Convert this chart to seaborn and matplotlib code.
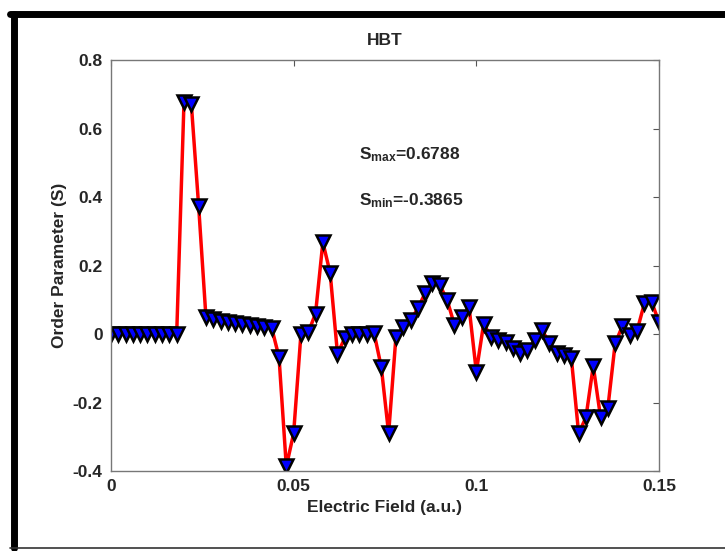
import numpy as np
import pandas as pd
import matplotlib
matplotlib.use("Agg")
import matplotlib.pyplot as plt
from matplotlib.lines import Line2D
import seaborn as sns

# field values: 76 points, step 0.002
field = [round(0.002 * i, 3) for i in range(76)]
order_param = [
    0.0, 0.0, 0.0, 0.0, 0.0, 0.0, 0.0, 0.0, 0.0, 0.0,          # 0.000-0.018
    0.6788, 0.672, 0.375,                                          # 0.020-0.024
    0.050, 0.043, 0.038, 0.035, 0.032, 0.030, 0.027, 0.025, 0.022, 0.018,  # 0.026-0.044
    -0.067, -0.3865, -0.29, 0.0, 0.005, 0.06, 0.268, 0.178, -0.057,       # 0.046-0.062
    -0.012, 0.0, 0.0, 0.0, 0.004, -0.097, -0.29, -0.008, 0.02, 0.04,      # 0.064-0.082
    0.075, 0.12, 0.15, 0.143, 0.10, 0.027, 0.05, 0.08, -0.11, 0.03,       # 0.084-0.102
    -0.008, -0.017, -0.023, -0.04, -0.055, -0.047, -0.017, 0.012, -0.027, -0.055,  # 0.104-0.122
    -0.06, -0.07, -0.29, -0.243, -0.093, -0.243, -0.215, -0.027, 0.024, -0.003,    # 0.124-0.142
    0.01, 0.09, 0.093, 0.035,                                      # 0.144-0.150
]
df = pd.DataFrame({"field": field, "S": order_param})

x_ticks = [0, 0.05, 0.1, 0.15]
x_labels = ["0", "0.05", "0.1", "0.15"]
y_ticks = [-0.4, -0.2, 0, 0.2, 0.4, 0.6, 0.8]
y_labels = ["-0.4", "-0.2", "0", "0.2", "0.4", "0.6", "0.8"]

sns.set_style("white")
plt.rcParams["font.family"] = ["Liberation Sans", "DejaVu Sans"]
plt.rcParams["mathtext.fontset"] = "custom"
plt.rcParams["mathtext.rm"] = "Liberation Sans:bold"
plt.rcParams["mathtext.it"] = "Liberation Sans:bold"
plt.rcParams["mathtext.bf"] = "Liberation Sans:bold"

fig = plt.figure(figsize=(7.25, 5.51), dpi=100)
ax = fig.add_axes([0.153, 0.145, 0.756, 0.746])

sns.lineplot(data=df, x="field", y="S", ax=ax, color="red", linewidth=2.5,
             marker="v", markersize=10, markerfacecolor="blue",
             markeredgecolor="black", markeredgewidth=1.8)

ax.set_xlim(0, 0.15)
ax.set_ylim(-0.4, 0.8)
ax.set_xticks(x_ticks)
ax.set_xticklabels(x_labels, fontsize=12.5, fontweight="bold")
ax.set_yticks(y_ticks)
ax.set_yticklabels(y_labels, fontsize=12.5, fontweight="bold")
ax.tick_params(direction="in", length=4, width=0.8, color="#555555",
               top=True, right=True, pad=6)
for sp in ax.spines.values():
    sp.set_color("#777777")
    sp.set_linewidth(1.0)

ax.set_xlabel("Electric Field (a.u.)", fontsize=12.5, fontweight="bold", labelpad=4)
ax.set_ylabel("Order Parameter (S)", fontsize=12.5, fontweight="bold", labelpad=4)
ax.set_title("HBT", fontsize=12.5, fontweight="bold", pad=11)

ax.text(0.068, 0.51, r"S$_{\mathregular{max}}$=0.6788", fontsize=12.5, fontweight="bold")
ax.text(0.068, 0.375, r"S$_{\mathregular{min}}$=-0.3865", fontsize=12.5, fontweight="bold")

# outer frame (thick top/left, thin bottom)
fig.add_artist(Line2D([0.014, 1.0], [0.975, 0.975], color="black", linewidth=5,
                      transform=fig.transFigure))
fig.add_artist(Line2D([0.019, 0.019], [0.005, 0.975], color="black", linewidth=5,
                      transform=fig.transFigure))
fig.add_artist(Line2D([0.014, 1.0], [0.006, 0.006], color="#333333", linewidth=1.2,
                      transform=fig.transFigure))

fig.savefig("out.png", dpi=100)
